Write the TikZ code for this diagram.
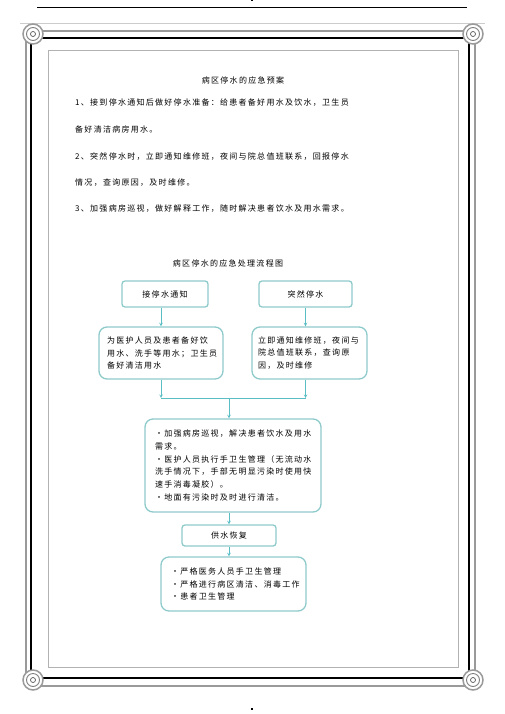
\documentclass[tikz,border=0pt]{standalone}
\usepackage{fontspec}
\setmainfont{Noto Sans CJK SC}[LetterSpace=16]
\usetikzlibrary{positioning}
\definecolor{boxline}{HTML}{8FCACB}
\definecolor{flowline}{HTML}{5BBEC4}
\definecolor{framegray}{HTML}{9A9A9A}

\begin{document}
\begin{tikzpicture}[x=1pt,y=-1pt,font=\fontsize{8}{12.8}\selectfont]
                \tikzstyle{process} = [rectangle, draw=boxline, line width=1.3pt, rounded corners=3pt, inner sep=0pt]
                \tikzstyle{note} = [process, rounded corners=8pt, align=left, inner ysep=4pt]
                \tikzstyle{arrow} = [semithick, draw=flowline, ->, >=stealth]
                \tikzstyle{flow} = [semithick, draw=flowline]
                \tikzstyle{textline} = [anchor=west, inner sep=0pt]

                \useasboundingbox (0,0) rectangle (505,714);

                \draw [line width=0.9pt] (37,7) -- (467,7);
                \fill (251,0) rectangle (253,1.5);
                \fill (251,708) rectangle (253,709.5);
                \draw [gray!40, line width=0.6pt] (20,23) -- (485,23);
                \draw [framegray, line width=1.8pt] (26,31) rectangle (475,686);
                \draw [line width=1.2pt] (31,38) rectangle (469,678);
                \draw [gray!60, line width=0.6pt] (48,50) rectangle (458,667);
                \foreach \cx/\cy in {33/34, 473/34, 33/680, 473/680} {
                    \draw [framegray, fill=white, line width=1.5pt] (\cx,\cy) circle (10pt);
                    \draw [gray, line width=0.9pt] (\cx,\cy) circle (6.5pt);
                    \draw [gray!70!black, line width=0.7pt] (\cx,\cy) circle (2.5pt);
                }

                \node (plan) at (243,80) {病区停水的应急预案};
                \node (p1) [textline] at (75,103) {1、接到停水通知后做好停水准备：给患者备好用水及饮水，卫生员};
                \node (p1b) [textline] at (75,129) {备好清洁病房用水。};
                \node (p2) [textline] at (75,157) {2、突然停水时，立即通知维修班，夜间与院总值班联系，回报停水};
                \node (p2b) [textline] at (75,183) {情况，查询原因，及时维修。};
                \node (p3) [textline] at (75,209) {3、加强病房巡视，做好解释工作，随时解决患者饮水及用水需求。};

                \node (flowtitle) at (228,263) {病区停水的应急处理流程图};
                \node (notice) [process, minimum width=86pt, minimum height=26pt] at (165,294) {接停水通知};
                \node (stop) [process, minimum width=93pt, minimum height=26pt] at (305.5,294) {突然停水};
                \node (prepare) [note, inner xsep=8pt, text width=108pt, minimum height=52pt] at (161,353) {为医护人员及患者备好饮\\用水、洗手等用水；卫生员\\备好清洁用水};
                \node (repair) [note, inner xsep=6pt, text width=103pt, minimum height=52pt] at (309.5,353) {立即通知维修班，夜间与\\院总值班联系，查询原\\因，及时维修};
                \coordinate (merge) at (229,398);
                \node (patrol) [note, inner xsep=10pt, text width=156pt, minimum height=93pt] at (233,465.5) {·加强病房巡视，解决患者饮水及用水\\需求。\\·医护人员执行手卫生管理（无流动水\\洗手情况下，手部无明显污染时使用快\\速手消毒凝胶）。\\·地面有污染时及时进行清洁。};
                \node (restore) [process, minimum width=94pt, minimum height=21pt] at (229,535.5) {供水恢复};
                \node (after) [note, inner xsep=10pt, text width=125pt, minimum height=54pt] at (233.5,584) {·严格医务人员手卫生管理\\·严格进行病区清洁、消毒工作\\·患者卫生管理};

                \draw [arrow] (notice.south -| prepare.north) -- (prepare.north);
                \draw [arrow] (stop.south) -- (stop.south |- repair.north);
                \draw [arrow] (prepare.south) -- (prepare.south |- merge);
                \draw [arrow] (repair.south -| stop.south) -- (stop.south |- merge);
                \draw [flow] (prepare.south |- merge) -- (stop.south |- merge);
                \draw [arrow] (merge) -- (merge |- patrol.north);
                \draw [arrow] (patrol.south -| restore.north) -- (restore.north);
                \draw [arrow] (restore.south) -- (restore.south |- after.north);
            \end{tikzpicture}
\end{document}
